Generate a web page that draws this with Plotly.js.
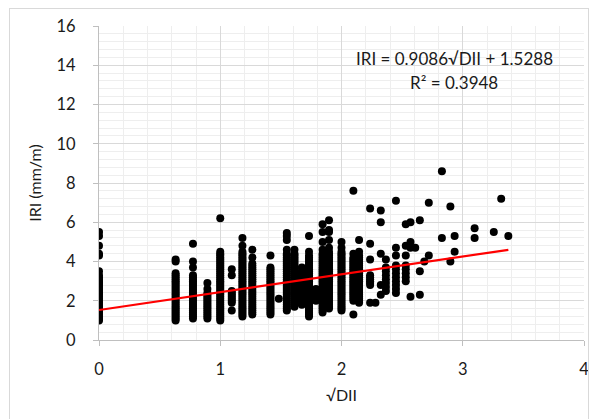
<!DOCTYPE html>
<html>
<head>
<meta charset="utf-8">
<script src="https://cdn.plot.ly/plotly-3.0.1.min.js"></script>
<style>
  html, body { margin: 0; padding: 0; background: #fff; overflow: hidden; }
  #chart { width: 598px; height: 419px; }
  #frame { position: absolute; left: 9px; top: 8px; width: 578px; height: 430px; border: 1px solid #d9d9d9; pointer-events: none; }
</style>
</head>
<body>
<div id="chart"></div>
<div id="frame"></div>
<script>
// √DII column positions
const sqrtDII = [0, 0.632, 0.775, 0.894, 1.0, 1.095, 1.183, 1.265, 1.414, 1.483,
  1.549, 1.612, 1.673, 1.732, 1.789, 1.844, 1.897, 2.0, 2.098, 2.145,
  2.236, 2.28, 2.324, 2.366, 2.449, 2.53, 2.569, 2.608, 2.646, 2.683,
  2.72, 2.828, 2.898, 2.933, 3.098, 3.256, 3.317, 3.376];

// IRI values observed in each column (mm/m)
const iriByColumn = [
  [1.0,1.1,1.2,1.3,1.4,1.5,1.6,1.7,1.8,1.9,2.0,2.1,2.2,2.3,2.4,2.5,2.6,2.7,2.8,2.9,3.0,3.1,3.2,3.3,3.5,4.3,4.4,4.8,5.3,5.5],
  [1.0,1.1,1.2,1.3,1.4,1.5,1.6,1.7,1.8,1.9,2.0,2.1,2.2,2.3,2.4,2.5,2.6,2.7,2.8,2.9,3.0,3.1,3.2,3.3,3.4,4.0,4.1],
  [1.1,1.2,1.3,1.4,1.5,1.6,1.7,1.8,1.9,2.0,2.1,2.2,2.3,2.4,2.5,2.6,2.7,2.8,2.9,3.0,3.1,3.2,3.3,3.7,4.0,4.9],
  [1.1,1.2,1.3,1.4,1.5,1.6,1.7,1.8,1.9,2.0,2.1,2.2,2.3,2.4,2.6,2.9],
  [1.0,1.1,1.2,1.3,1.4,1.5,1.6,1.7,1.8,1.9,2.0,2.1,2.2,2.3,2.4,2.5,2.6,2.7,2.8,2.9,3.0,3.1,3.2,3.3,3.4,3.5,3.6,3.7,3.8,3.9,4.0,4.1,4.2,4.3,4.4,4.5,6.2],
  [1.5,1.9,2.0,2.1,2.2,2.3,2.4,2.5,3.3,3.6],
  [1.2,1.3,1.4,1.5,1.6,1.7,1.8,1.9,2.0,2.1,2.2,2.3,2.4,2.5,2.6,2.7,2.8,2.9,3.0,3.1,3.2,3.3,3.4,3.5,3.6,3.7,3.8,3.9,4.0,4.1,4.2,4.3,4.4,4.5,4.8,5.2],
  [1.3,1.4,1.5,1.6,1.7,1.8,1.9,2.0,2.1,2.2,2.3,2.4,2.5,2.6,2.7,2.8,2.9,3.0,3.1,3.2,3.3,3.4,3.5,3.6,3.7,3.8,3.9,4.2,4.6],
  [1.3,1.4,1.5,1.6,1.7,1.8,1.9,2.0,2.1,2.2,2.3,2.4,2.5,2.6,2.7,2.8,2.9,3.0,3.1,3.2,3.3,3.4,3.5,3.6,3.7,4.3],
  [2.1],
  [1.5,1.6,1.7,1.8,1.9,2.0,2.1,2.2,2.3,2.4,2.5,2.6,2.7,2.8,2.9,3.0,3.1,3.2,3.3,3.4,3.5,3.6,3.7,3.8,3.9,4.0,4.1,4.2,4.3,4.4,4.6,5.1,5.3,5.45],
  [1.7,1.8,1.9,2.0,2.1,2.2,2.3,2.4,2.5,2.6,2.7,2.8,2.9,3.0,3.1,3.2,3.3,3.4,3.5,3.6,3.7,3.8,3.9,4.0,4.1,4.2,4.3,4.4,4.6],
  [1.8,1.9,2.0,2.1,2.2,2.3,2.4,2.5,2.6,2.7,2.8,2.9,3.0,3.1,3.2,3.3,3.4,3.5,3.7],
  [1.2,1.3,1.4,1.5,1.6,1.7,1.8,1.9,2.0,2.1,2.2,2.3,2.4,2.5,2.6,2.7,2.8,2.9,3.0,3.1,3.2,3.3,3.4,3.5,3.6,3.7,3.8,3.9,4.0,4.1,4.2,4.3,4.5,5.3],
  [2.0,2.2,2.3,2.5,2.6],
  [1.4,1.5,1.6,1.7,1.8,1.9,2.0,2.1,2.2,2.3,2.4,2.5,2.6,2.7,2.8,2.9,3.0,3.1,3.2,3.3,3.4,3.5,3.6,3.7,3.8,3.9,4.0,4.1,4.2,4.3,4.4,4.6,5.0,5.5,5.9],
  [1.6,1.7,1.8,1.9,2.0,2.1,2.2,2.3,2.4,2.5,2.6,2.7,2.8,2.9,3.0,3.1,3.2,3.3,3.4,3.5,3.6,3.7,3.8,3.9,4.0,4.1,4.2,4.3,4.4,4.5,4.7,5.1,5.5,5.6,6.1],
  [1.5,1.6,1.7,1.8,1.9,2.0,2.1,2.2,2.3,2.4,2.5,2.6,2.7,2.8,2.9,3.0,3.1,3.2,3.3,3.4,3.5,3.6,3.7,3.8,3.9,4.0,4.1,4.2,4.3,4.4,4.5,4.7,5.0],
  [1.3,2.0,2.1,2.2,2.3,2.4,2.5,2.6,2.7,2.8,2.9,3.0,3.1,3.2,3.3,3.4,3.5,3.6,3.7,3.8,3.9,4.0,4.1,4.2,4.4,7.6],
  [1.9,2.0,2.1,2.2,2.3,2.4,2.5,2.6,2.7,2.8,2.9,3.0,3.1,3.2,3.3,3.4,3.5,3.6,3.7,3.8,3.9,4.0,4.1,4.2,4.3,4.5,5.1],
  [1.9,2.8,2.9,3.0,3.1,3.2,3.3,4.1,4.9,6.7],
  [1.9],
  [2.3,2.8,4.4,6.0,6.6],
  [2.5,2.7,2.9,3.1,3.3,3.5,3.7,4.1],
  [2.4,2.6,2.8,3.0,3.2,3.4,3.6,3.8,4.3,4.7,7.1],
  [3.0,3.2,3.4,3.6,3.8,4.3,4.8,5.9],
  [2.2,4.7,5.0,6.0],
  [4.7],
  [2.3,3.5,6.1],
  [4.0],
  [4.3,7.0],
  [5.2,8.6],
  [4.0,6.8],
  [4.5,5.3],
  [5.2,5.7],
  [5.5],
  [7.2],
  [5.3]
];

// Linear trend line (from the chart's equation)
const slope = 0.9086;
const intercept = 1.5288;
const trendX = [0, 3.376];
const equationText = 'IRI = 0.9086√DII + 1.5288';
const r2Text = 'R² = 0.3948';

const xs = [], ys = [];
iriByColumn.forEach((col, i) => col.forEach(v => { xs.push(sqrtDII[i]); ys.push(v); }));
const trendY = trendX.map(v => slope * v + intercept);

const font = 'Lato, "Open Sans", sans-serif';
const txt = '#1a1a1a';

const data = [
  { type: 'scatter', mode: 'markers', x: xs, y: ys,
    marker: { color: '#000000', size: 8 }, hoverinfo: 'x+y', showlegend: false },
  { type: 'scatter', mode: 'lines', x: trendX, y: trendY,
    line: { color: '#ff0000', width: 2.2 }, showlegend: false }
];

const layout = {
  width: 598, height: 419,
  margin: { l: 99, r: 14, t: 26, b: 79 },
  paper_bgcolor: '#ffffff', plot_bgcolor: '#ffffff',
  font: { family: font, size: 16, color: txt },
  showlegend: false,
  xaxis: {
    range: [0, 4], dtick: 1, tick0: 0, autorange: false,
    showgrid: true, gridcolor: '#d9d9d9', gridwidth: 1,
    minor: { dtick: 0.2, showgrid: true, gridcolor: '#eeeeee', gridwidth: 1 },
    zeroline: false, showline: true, linecolor: '#bfbfbf', linewidth: 1,
    ticks: 'outside', ticklen: 5, tickcolor: '#bfbfbf',
    ticklabelstandoff: 9,
    tickfont: { family: font, size: 16.5, color: txt },
    title: { text: '√DII', font: { family: font, size: 16, color: txt }, standoff: 12 }
  },
  yaxis: {
    range: [0, 16], dtick: 2, tick0: 0, autorange: false,
    showgrid: true, gridcolor: '#d9d9d9', gridwidth: 1,
    minor: { dtick: 0.4, showgrid: true, gridcolor: '#eeeeee', gridwidth: 1 },
    zeroline: false, showline: true, linecolor: '#bfbfbf', linewidth: 1,
    ticks: 'outside', ticklen: 5, tickcolor: '#bfbfbf',
    ticklabelstandoff: 14,
    tickfont: { family: font, size: 16.5, color: txt },
    title: { text: 'IRI (mm/m)', font: { family: font, size: 16, color: txt }, standoff: 10 }
  },
  annotations: [
    { xref: 'x', yref: 'y', x: 2.93, y: 14.35, text: equationText, showarrow: false,
      xanchor: 'center', yanchor: 'middle', font: { family: font, size: 17, color: txt } },
    { xref: 'x', yref: 'y', x: 2.93, y: 13.1, text: r2Text, showarrow: false,
      xanchor: 'center', yanchor: 'middle', font: { family: font, size: 17, color: txt } }
  ]
};

Plotly.newPlot('chart', data, layout, { staticPlot: true, displayModeBar: false });
</script>
</body>
</html>
